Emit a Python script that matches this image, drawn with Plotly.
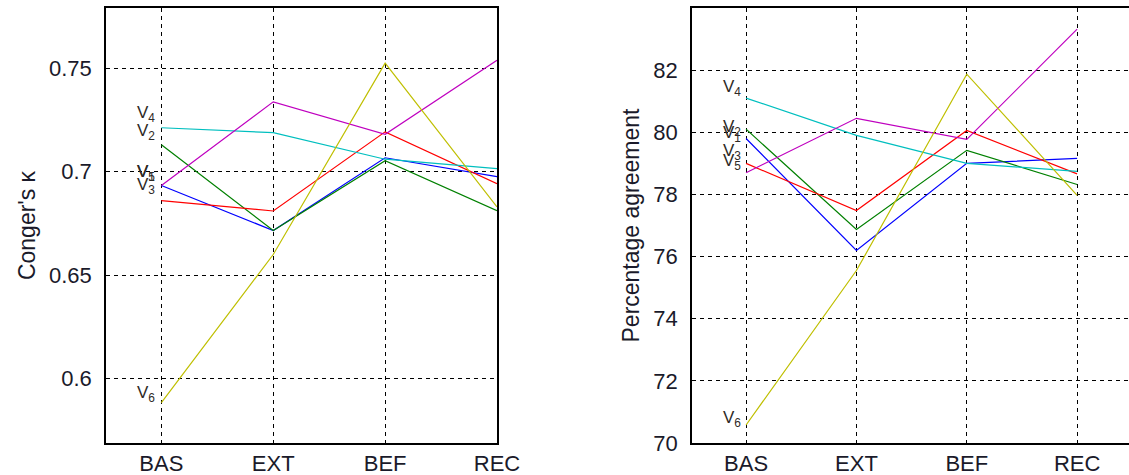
import plotly.graph_objects as go

categories = ["BAS", "EXT", "BEF", "REC"]
series_names = ["V<sub>1</sub>", "V<sub>2</sub>", "V<sub>3</sub>", "V<sub>4</sub>", "V<sub>5</sub>", "V<sub>6</sub>"]

kappa_V1 = [0.6933, 0.6716, 0.7067, 0.6976]
kappa_V2 = [0.7130, 0.6716, 0.7053, 0.6812]
kappa_V3 = [0.6860, 0.6810, 0.7192, 0.6942]
kappa_V4 = [0.7212, 0.7188, 0.7060, 0.7015]
kappa_V5 = [0.6933, 0.7337, 0.7180, 0.7538]
kappa_V6 = [0.5885, 0.6600, 0.7524, 0.6830]

pct_V1 = [79.80, 76.20, 79.00, 79.16]
pct_V2 = [80.10, 76.87, 79.42, 78.32]
pct_V3 = [79.00, 77.48, 80.06, 78.66]
pct_V4 = [81.10, 79.90, 79.00, 78.74]
pct_V5 = [78.70, 80.45, 79.77, 83.32]
pct_V6 = [70.58, 75.55, 81.87, 77.97]

kappa_ticks = [0.6, 0.65, 0.7, 0.75]
pct_ticks = [70, 72, 74, 76, 78, 80, 82]

kappa_series = [kappa_V1, kappa_V2, kappa_V3, kappa_V4, kappa_V5, kappa_V6]
pct_series = [pct_V1, pct_V2, pct_V3, pct_V4, pct_V5, pct_V6]

colors = ["#0000FF", "#008000", "#FF0000", "#00BFBF", "#BF00BF", "#BFBF00"]
left_label_shift = [13, 13, 15, 14, 13, 9]
right_label_shift = [5, 1, 11, 10, 11, 6]

x_pos = [1, 2, 3, 4]

fig = go.Figure()
for vals, c in zip(kappa_series, colors):
    fig.add_trace(go.Scatter(x=x_pos, y=vals, mode="lines", line=dict(color=c, width=1.2),
                             xaxis="x", yaxis="y", showlegend=False, hoverinfo="skip"))
for vals, c in zip(pct_series, colors):
    fig.add_trace(go.Scatter(x=x_pos, y=vals, mode="lines", line=dict(color=c, width=1.2),
                             xaxis="x2", yaxis="y2", showlegend=False, hoverinfo="skip"))

labelfont = dict(family="Liberation Sans, Arial", size=17, color="#2e2a26")
annotations = []
for name, vals, sh in zip(series_names, kappa_series, left_label_shift):
    annotations.append(dict(x=x_pos[0], y=vals[0], xref="x", yref="y", text=name, showarrow=False,
                            xanchor="right", yanchor="middle", xshift=-4, yshift=sh, font=labelfont))
for name, vals, sh in zip(series_names, pct_series, right_label_shift):
    annotations.append(dict(x=x_pos[0], y=vals[0], xref="x2", yref="y2", text=name, showarrow=False,
                            xanchor="right", yanchor="middle", xshift=-3, yshift=sh, font=labelfont))

W, H = 1129, 475
L1, R1 = 106, 497
L2, R2 = 692, 1129
grid = dict(showgrid=True, gridcolor="#000000", gridwidth=1.2, griddash="4px,4px", zeroline=False,
            automargin=False)
tickfont = dict(family="Liberation Sans, Arial", size=22, color="#1a1a2a")
titlefont = dict(family="Liberation Sans, Arial", size=23, color="#1a1a2a")

fig.update_layout(
    width=W, height=H,
    margin=dict(l=0, r=0, t=8, b=32),
    paper_bgcolor="white", plot_bgcolor="white",
    annotations=annotations,
    xaxis=dict(domain=[L1 / W, R1 / W], range=[0.505, 4.0], tickvals=x_pos, ticktext=categories,
               showline=True, linecolor="black", linewidth=1.5, mirror=True, ticks="",
               tickfont=tickfont, anchor="y", **grid),
    yaxis=dict(domain=[0, 1], range=[0.569, 0.779], tickvals=kappa_ticks,
               ticktext=["0.6", "0.65", "0.7", "0.75"],
               showline=True, linecolor="black", linewidth=1.5, mirror=True, ticks="",
               tickfont=tickfont, anchor="x", ticklabelstandoff=8,
               title=dict(text="Conger's κ", font=titlefont, standoff=7), **grid),
    xaxis2=dict(domain=[L2 / W, R2 / W], range=[0.51, 4.47], tickvals=x_pos, ticktext=categories,
                showline=True, linecolor="black", linewidth=1.5, mirror=True, ticks="",
                tickfont=tickfont, anchor="y2", **grid),
    yaxis2=dict(domain=[0, 1], range=[70, 84], tickvals=pct_ticks,
                showline=True, linecolor="black", linewidth=1.5, mirror=False, ticks="",
                tickfont=tickfont, anchor="x2", ticklabelstandoff=8,
                title=dict(text="Percentage agreement", font=titlefont, standoff=7), **grid),
)

fig.write_html("out.html", config={"displayModeBar": False, "responsive": False},
               post_script="document.body.style.margin='0';document.body.style.overflow='hidden';")
